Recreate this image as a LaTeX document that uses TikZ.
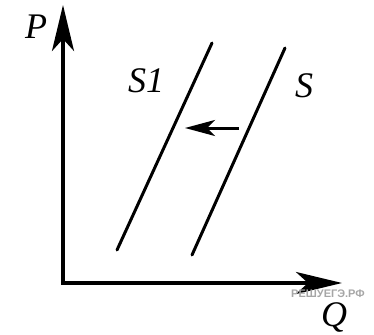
\documentclass[tikz,border=0pt]{standalone}
\usepackage{fontspec}
\setmainfont{Liberation Serif}
\newfontfamily\wmfont{Liberation Sans}
\usetikzlibrary{arrows.meta}
\tikzset{
  axis/.style={line width=3.5pt, -{Stealth[length=46pt,width=22pt,inset=12pt]}},
  curve/.style={line width=3pt, line cap=round},
  shift arrow/.style={line width=3pt, -{Stealth[length=30pt,width=16pt,inset=8pt]}},
  lbl/.style={font=\fontsize{36}{38}\selectfont\itshape, inner sep=0pt},
  wm/.style={font=\wmfont\bfseries\fontsize{11}{12}\selectfont, text=black!35, inner sep=0pt}
}
\begin{document}
\begin{tikzpicture}[x=1pt,y=-1pt]
\useasboundingbox (0,0) rectangle (374,334);
\coordinate (O) at (63,283);
\coordinate (Ptop) at (63,5);
\coordinate (Qend) at (342,283);
\draw[axis] (O) ++(0,1.75) -- (Ptop);
\draw[axis] (O) ++(-1.75,0) -- (Qend);
\node[lbl] (P) at (36,27) {P};
\node[lbl] (Q) at (334,317) {Q};
\coordinate (S1a) at (117,250);
\coordinate (S1b) at (212,43);
\coordinate (Sa) at (192,255);
\coordinate (Sb) at (285,48);
\draw[curve] (S1a) -- (S1b);
\draw[curve] (Sa) -- (Sb);
\node[lbl] (S1) at (146,81) {S1};
\node[lbl] (S) at (304,86) {S};
\coordinate (A1) at (239,128);
\coordinate (A2) at (185,128);
\draw[shift arrow] (A1) -- (A2);
\node[wm] (W) at (328,294) {РЕШУЕГЭ.РФ};
\end{tikzpicture}
\end{document}
